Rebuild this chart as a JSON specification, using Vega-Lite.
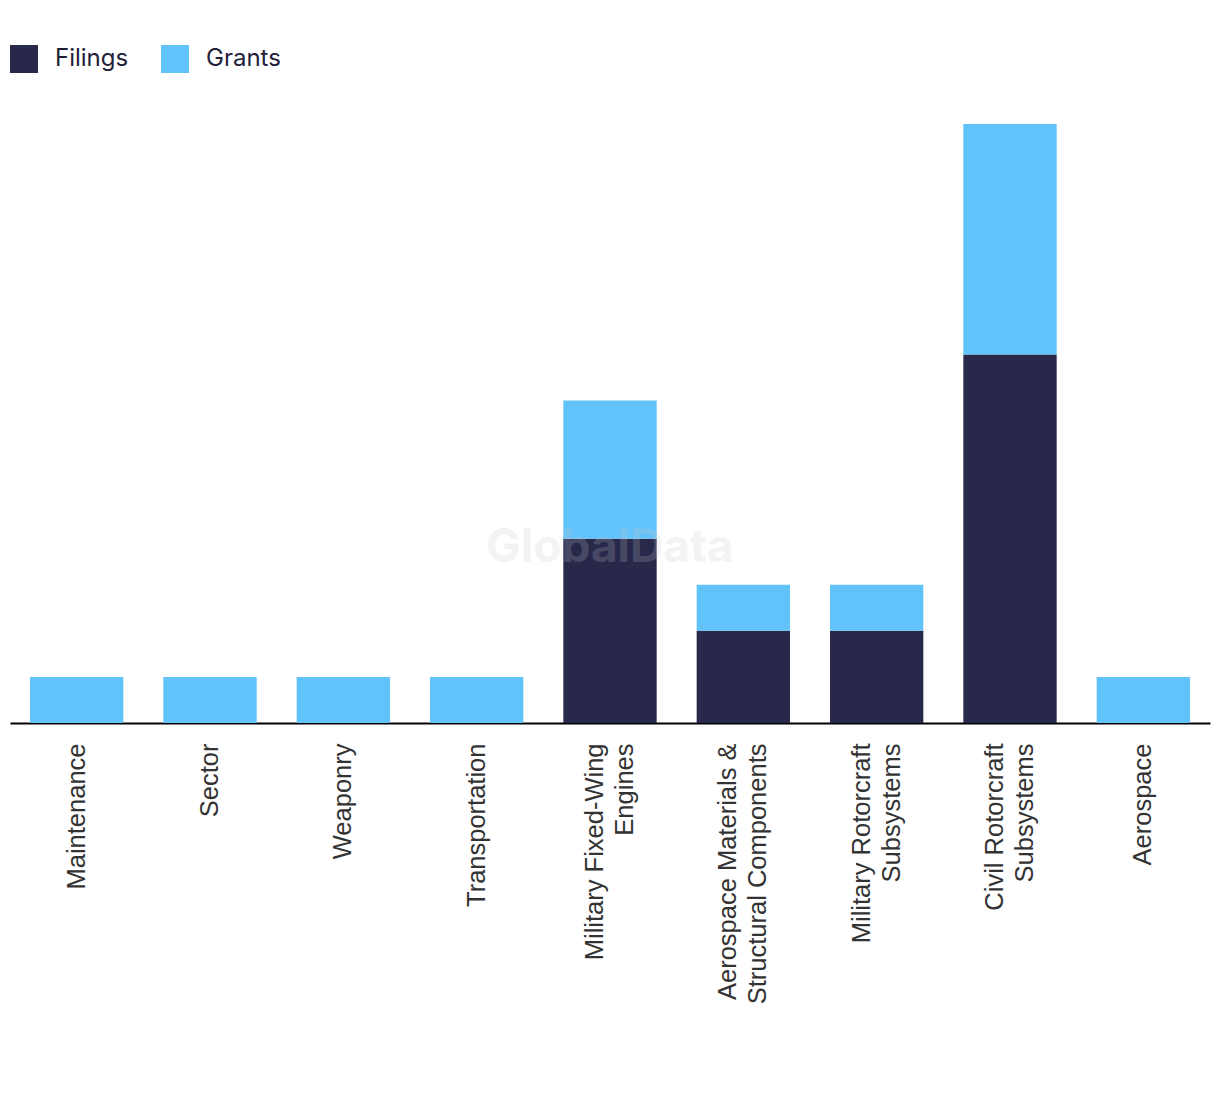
{
  "$schema": "https://vega.github.io/schema/vega-lite/v6.json",
  "width": 1200,
  "height": 599,
  "autosize": {"type": "none"},
  "padding": {"left": 10, "top": 124, "right": 10, "bottom": 371},
  "background": "white",
  "config": {"view": {"stroke": null}},
  "data": {
    "values": [
      {"category": "Maintenance", "type": "Grants", "count": 1, "rank": 2},
      {"category": "Sector", "type": "Grants", "count": 1, "rank": 2},
      {"category": "Weaponry", "type": "Grants", "count": 1, "rank": 2},
      {"category": "Transportation", "type": "Grants", "count": 1, "rank": 2},
      {"category": "Military Fixed-Wing Engines", "type": "Filings", "count": 4, "rank": 1},
      {"category": "Military Fixed-Wing Engines", "type": "Grants", "count": 3, "rank": 2},
      {"category": "Aerospace Materials & Structural Components", "type": "Filings", "count": 2, "rank": 1},
      {"category": "Aerospace Materials & Structural Components", "type": "Grants", "count": 1, "rank": 2},
      {"category": "Military Rotorcraft Subsystems", "type": "Filings", "count": 2, "rank": 1},
      {"category": "Military Rotorcraft Subsystems", "type": "Grants", "count": 1, "rank": 2},
      {"category": "Civil Rotorcraft Subsystems", "type": "Filings", "count": 8, "rank": 1},
      {"category": "Civil Rotorcraft Subsystems", "type": "Grants", "count": 5, "rank": 2},
      {"category": "Aerospace", "type": "Grants", "count": 1, "rank": 2}
    ]
  },
  "layer": [
    {
      "mark": {"type": "bar"},
      "encoding": {
        "x": {
          "field": "category",
          "type": "nominal",
          "sort": null,
          "scale": {"domain": ["Maintenance", "Sector", "Weaponry", "Transportation", "Military Fixed-Wing Engines", "Aerospace Materials & Structural Components", "Military Rotorcraft Subsystems", "Civil Rotorcraft Subsystems", "Aerospace"], "paddingInner": 0.3, "paddingOuter": 0.15},
          "axis": {
            "title": null,
            "labelAngle": -90,
            "labelAlign": "right",
            "labelBaseline": "middle",
            "labelFont": "Liberation Sans",
            "labelFontSize": 25.5,
            "labelColor": "#333333",
            "labelLineHeight": 30,
            "labelPadding": 20,
            "labelLimit": 400,
            "labelOffset": {"condition": {"test": "indexof(['Military Fixed-Wing Engines','Aerospace Materials & Structural Components','Military Rotorcraft Subsystems','Civil Rotorcraft Subsystems'], datum.value) >= 0", "value": -15}, "value": 0},
            "ticks": false,
            "domainColor": "#000000",
            "domainWidth": 2,
            "labelExpr": "datum.value == 'Military Fixed-Wing Engines' ? ['Military Fixed-Wing', 'Engines'] : datum.value == 'Aerospace Materials & Structural Components' ? ['Aerospace Materials &', 'Structural Components'] : datum.value == 'Military Rotorcraft Subsystems' ? ['Military Rotorcraft', 'Subsystems'] : datum.value == 'Civil Rotorcraft Subsystems' ? ['Civil Rotorcraft', 'Subsystems'] : datum.value"
          }
        },
        "y": {
          "field": "count",
          "type": "quantitative",
          "stack": "zero",
          "scale": {"domain": [0, 13], "nice": false},
          "axis": null
        },
        "order": {"field": "rank", "type": "quantitative"},
        "color": {
          "field": "type",
          "type": "nominal",
          "scale": {"domain": ["Filings", "Grants"], "range": ["#27284a", "#62c2fa"]},
          "legend": {
            "title": null,
            "orient": "none",
            "legendX": 0,
            "legendY": -79,
            "direction": "horizontal",
            "symbolType": "square",
            "symbolSize": 784,
            "symbolStrokeWidth": 0,
            "symbolOpacity": 1,
            "labelFont": "Inter",
            "labelFontSize": 24,
            "labelColor": "#1f2038",
            "labelOffset": 17,
            "columnPadding": 32,
            "padding": 0
          }
        }
      }
    },
    {
      "data": {"values": [{"label": "GlobalData", "pos": "Military Fixed-Wing Engines", "level": 3.8}]},
      "mark": {"type": "text", "font": "Inter", "fontWeight": "bold", "fontSize": 46, "fill": "#c8c8c8", "opacity": 0.2, "align": "center", "baseline": "middle"},
      "encoding": {
        "x": {"field": "pos", "type": "nominal", "sort": null},
        "y": {"field": "level", "type": "quantitative"},
        "text": {"field": "label"}
      }
    }
  ]
}
